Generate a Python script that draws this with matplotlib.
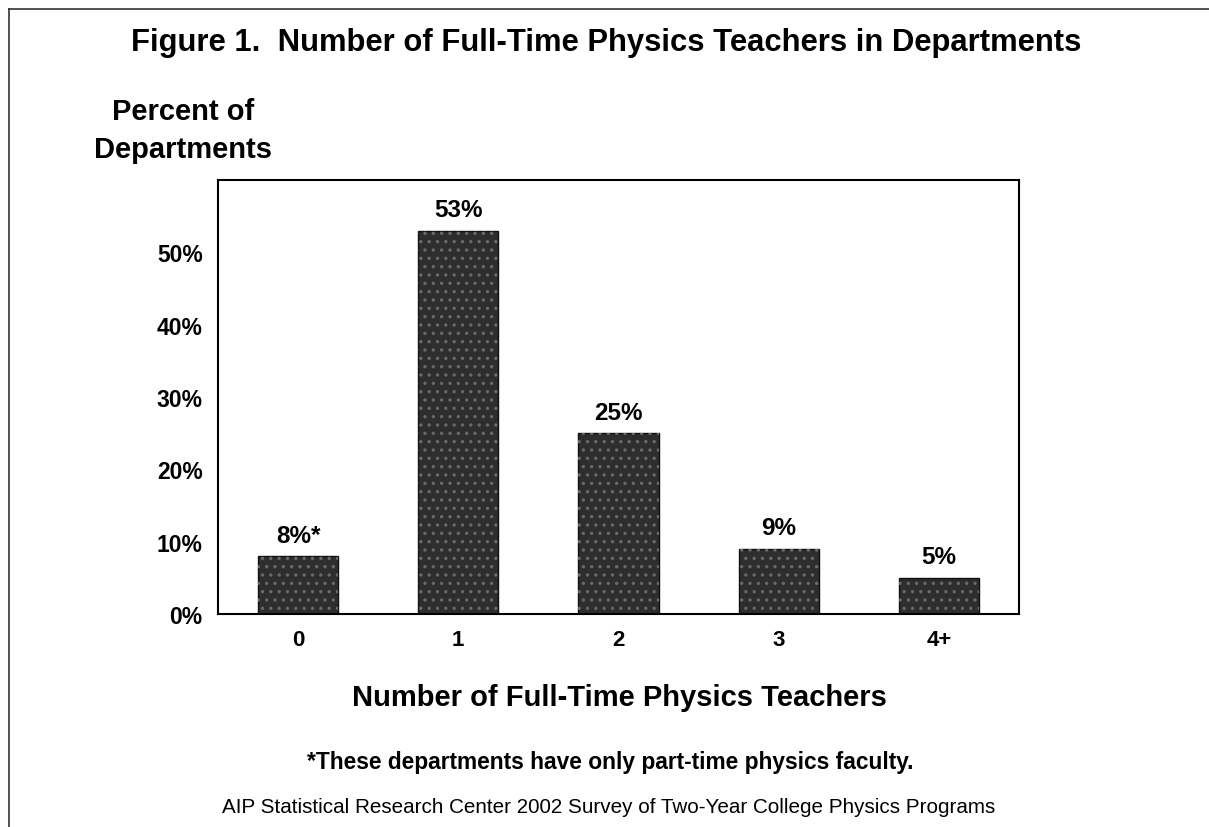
import matplotlib.pyplot as plt
from matplotlib.lines import Line2D
import numpy as np

categories = ['0', '1', '2', '3', '4+']
percents = [8, 53, 25, 9, 5]
bar_labels = ['8%*', '53%', '25%', '9%', '5%']
yticks = [0, 10, 20, 30, 40, 50]

plt.rcParams['font.family'] = ['Liberation Sans', 'DejaVu Sans']
plt.rcParams['font.weight'] = 'bold'
plt.rcParams['hatch.linewidth'] = 1.2

W, H = 1209, 828
fig = plt.figure(figsize=(W / 100, H / 100), dpi=100)
ax = fig.add_axes([218 / W, 1 - 615 / H, (1019 - 218) / W, (615 - 181) / H])

x = np.arange(len(categories))
ax.bar(x, percents, width=0.5, color='#2e2e2e', edgecolor='#111111', linewidth=1)
# speckled look of the scanned bars
ax.bar(x, percents, width=0.5, color='none', edgecolor='#6a6a6a', hatch='..', linewidth=0)
for xi, v, lab in zip(x, percents, bar_labels):
    ax.text(xi, v + 1.3, lab, ha='center', va='bottom', fontsize=17.5, fontweight='bold')

ax.set_xlim(-0.5, 4.5)
ax.set_ylim(0, 60)
ax.set_yticks(yticks)
ax.set_yticklabels([f'{t}%' for t in yticks], fontsize=16.5, fontweight='bold')
ax.set_xticks(x)
ax.set_xticklabels(categories, fontsize=16, fontweight='bold')
ax.tick_params(length=0)
ax.tick_params(axis='y', pad=11)
ax.tick_params(axis='x', pad=11)
for s in ax.spines.values():
    s.set_linewidth(1.5)

fig.text(606 / W, 1 - 43 / H, 'Figure 1.  Number of Full-Time Physics Teachers in Departments',
         ha='center', va='center', fontsize=22.3, fontweight='bold')
fig.text(183 / W, 1 - 131 / H, 'Percent of\nDepartments', ha='center', va='center',
         fontsize=21, fontweight='bold', linespacing=1.42)
fig.text(619 / W, 1 - 698 / H, 'Number of Full-Time Physics Teachers', ha='center', va='center',
         fontsize=21, fontweight='bold')
fig.text(610 / W, 1 - 763 / H, '*These departments have only part-time physics faculty.',
         ha='center', va='center', fontsize=16.4, fontweight='bold')
fig.text(609 / W, 1 - 808 / H, 'AIP Statistical Research Center 2002 Survey of Two-Year College Physics Programs',
         ha='center', va='center', fontsize=14.9, fontweight='normal')

# outer frame (top and left edges only)
fig.add_artist(Line2D([9 / W, 1], [1 - 10 / H, 1 - 10 / H], color='#333333', lw=1.2))
fig.add_artist(Line2D([9 / W, 9 / W], [0, 1 - 10 / H], color='#333333', lw=1.2))

fig.savefig('out.png', dpi=100)
